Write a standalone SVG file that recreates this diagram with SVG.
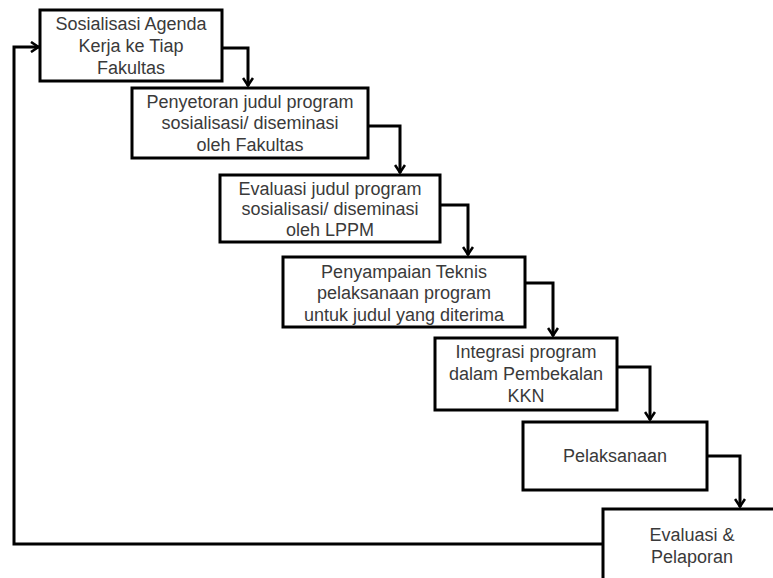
<svg xmlns="http://www.w3.org/2000/svg" width="773" height="578" viewBox="0 0 773 578">
<style>
.box{fill:#fff;stroke:#000;stroke-width:3}
.t{font-family:"Liberation Sans",Arial,sans-serif;font-size:18px;fill:#3a3a3a;text-anchor:middle}
.c{fill:none;stroke:#000;stroke-width:3}
</style>
<defs>
<marker id="arr" viewBox="0 0 12 12" refX="11" refY="6" markerWidth="12" markerHeight="12" markerUnits="userSpaceOnUse" orient="auto">
<polyline points="3,1 10.5,6 3,11" fill="none" stroke="#000" stroke-width="2.6"/>
</marker>
</defs>
<rect width="773" height="578" fill="#fff"/>
<g id="connectors">
<path class="c" d="M222,48 H248 V86" marker-end="url(#arr)"/>
<path class="c" d="M368,126 H400 V173" marker-end="url(#arr)"/>
<path class="c" d="M440,205 H468 V255" marker-end="url(#arr)"/>
<path class="c" d="M525,283 H553 V336" marker-end="url(#arr)"/>
<path class="c" d="M617,367 H650 V420" marker-end="url(#arr)"/>
<path class="c" d="M707,456 H740 V507" marker-end="url(#arr)"/>
<path class="c" d="M603,544 H14 V47 H39" marker-end="url(#arr)"/>
</g>
<g id="n1">
<rect class="box" x="40" y="10" width="182" height="71"/>
<text class="t" x="131" y="30">Sosialisasi Agenda</text>
<text class="t" x="131" y="52">Kerja ke Tiap</text>
<text class="t" x="131" y="74">Fakultas</text>
</g>
<g id="n2">
<rect class="box" x="132" y="88" width="236" height="70"/>
<text class="t" x="250" y="108">Penyetoran judul program</text>
<text class="t" x="250" y="129">sosialisasi/ diseminasi</text>
<text class="t" x="250" y="151">oleh Fakultas</text>
</g>
<g id="n3">
<rect class="box" x="220" y="175" width="220" height="67"/>
<text class="t" x="330" y="195">Evaluasi judul program</text>
<text class="t" x="330" y="215">sosialisasi/ diseminasi</text>
<text class="t" x="330" y="236">oleh LPPM</text>
</g>
<g id="n4">
<rect class="box" x="283" y="257" width="242" height="70"/>
<text class="t" x="404" y="278">Penyampaian Teknis</text>
<text class="t" x="404" y="299">pelaksanaan program</text>
<text class="t" x="404" y="321">untuk judul yang diterima</text>
</g>
<g id="n5">
<rect class="box" x="435" y="338" width="182" height="72"/>
<text class="t" x="526" y="358">Integrasi program</text>
<text class="t" x="526" y="380">dalam Pembekalan</text>
<text class="t" x="526" y="402">KKN</text>
</g>
<g id="n6">
<rect class="box" x="523" y="422" width="184" height="68"/>
<text class="t" x="615" y="462">Pelaksanaan</text>
</g>
<g id="n7">
<rect class="box" x="603" y="509" width="190" height="90"/>
<text class="t" x="692" y="541">Evaluasi &amp;</text>
<text class="t" x="692" y="563">Pelaporan</text>
</g>
</svg>
